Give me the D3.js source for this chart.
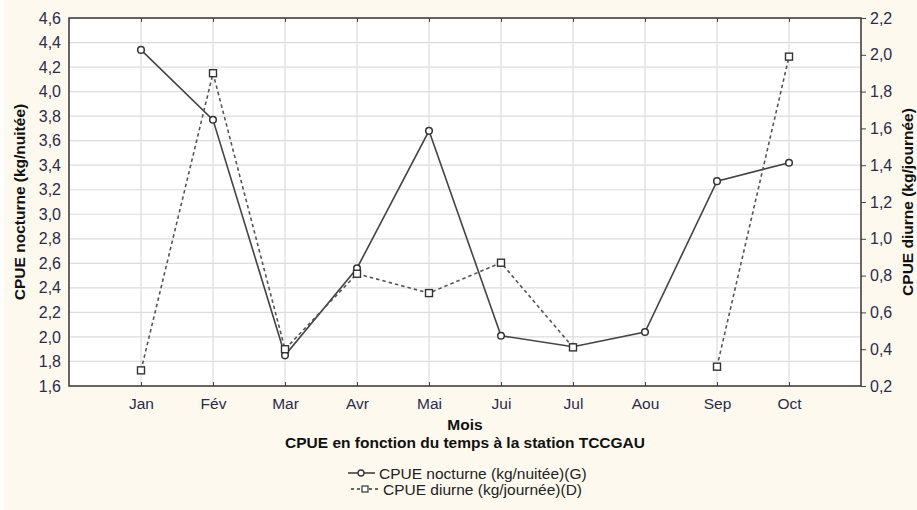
<!DOCTYPE html>
<html><head><meta charset="utf-8">
<script src="https://cdn.jsdelivr.net/npm/d3@7"></script>
<style>body{margin:0;background:#fff}svg{display:block}</style>
</head><body><svg id="c" width="917" height="510"></svg>
<script>
const months = ["Jan","Fév","Mar","Avr","Mai","Jui","Jul","Aou","Sep","Oct"];
const nocturne = [4.34,3.77,1.85,2.56,3.68,2.01,1.92,2.04,3.27,3.42];
const diurne = [0.285,1.90,0.40,0.81,0.705,0.87,0.41,null,0.305,1.99];
const leftTicks = [1.6,1.8,2.0,2.2,2.4,2.6,2.8,3.0,3.2,3.4,3.6,3.8,4.0,4.2,4.4,4.6];
const rightTicks = [0.2,0.4,0.6,0.8,1.0,1.2,1.4,1.6,1.8,2.0,2.2];

const svg = d3.select("#c");
const W=917,H=510, L=69,R=861,T=18,B=386;
const font="Liberation Sans, Arial, sans-serif";
const txt="#2b2b4a";
const fs=15.5;
svg.append("rect").attr("x",4).attr("y",0).attr("width",W-4).attr("height",H).attr("fill","#fef9ee");
svg.append("rect").attr("x",L).attr("y",T).attr("width",R-L).attr("height",B-T).attr("fill","#fff");

const x = d3.scalePoint().domain(["",...months,"_"]).range([L,R]);
const yL = d3.scaleLinear().domain([1.6,4.6]).range([B,T]);
const yR = d3.scaleLinear().domain([0.2,2.2]).range([B,T]);
const fmt = d=>d3.format(".1f")(d).replace(".",",");

// grid
const g = svg.append("g");
g.selectAll(".vg").data(months).join("line").attr("x1",d=>x(d)).attr("x2",d=>x(d)).attr("y1",T).attr("y2",B).attr("stroke","#dcdcdc").attr("stroke-width",1.2);
g.selectAll(".hg").data(leftTicks.slice(1,-1)).join("line").attr("x1",L).attr("x2",R).attr("y1",d=>yL(d)).attr("y2",d=>yL(d)).attr("stroke","#dcdcdc").attr("stroke-width",1.2);

// axes
const ax = svg.append("g").attr("font-family",font);
const axL = ax.append("g").attr("transform",`translate(${L},0)`).call(d3.axisLeft(yL).tickValues(leftTicks).tickFormat(fmt).tickSize(0).tickPadding(8));
const axR = ax.append("g").attr("transform",`translate(${R},0)`).call(d3.axisRight(yR).tickValues(rightTicks).tickFormat(fmt).tickSize(5).tickPadding(4));
const axB = ax.append("g").attr("transform",`translate(0,${B})`).call(d3.axisBottom(x).tickValues(months).tickSize(-4).tickPadding(12));
const axT = ax.append("g").attr("transform",`translate(0,${T})`).call(d3.axisTop(x).tickValues(months).tickSize(-4).tickFormat(""));
[axL,axR,axB,axT].forEach(a=>{a.select(".domain").remove();a.selectAll("text").attr("font-size",fs).attr("fill",txt).attr("font-family",font);a.selectAll("line").attr("stroke","#444");});
axL.selectAll("text").attr("font-size",16);
axR.selectAll("text").attr("font-size",16);

svg.append("rect").attr("x",L).attr("y",T).attr("width",R-L).attr("height",B-T).attr("fill","none").attr("stroke","#333").attr("stroke-width",1.5);

// lines
const lineN = d3.line().x((d,i)=>x(months[i])).y(d=>yL(d));
const lineD = d3.line().defined(d=>d!=null).x((d,i)=>x(months[i])).y(d=>yR(d));
svg.append("path").attr("d",lineN(nocturne)).attr("fill","none").attr("stroke","#444").attr("stroke-width",1.6);
svg.append("path").attr("d",lineD(diurne)).attr("fill","none").attr("stroke","#555").attr("stroke-width",1.6).attr("stroke-dasharray","3.5,3");
svg.selectAll(".pn").data(nocturne).join("circle").attr("cx",(d,i)=>x(months[i])).attr("cy",d=>yL(d)).attr("r",3.3).attr("fill","#fff").attr("stroke","#333").attr("stroke-width",1.5);
svg.selectAll(".pd").data(diurne.map((d,i)=>({d,i})).filter(o=>o.d!=null)).join("rect").attr("x",o=>x(months[o.i])-3.5).attr("y",o=>yR(o.d)-3.5).attr("width",7).attr("height",7).attr("fill","#fff").attr("stroke","#333").attr("stroke-width",1.4);

// titles
const t = svg.append("g").attr("font-family",font).attr("fill","#111").attr("font-weight","bold").attr("text-anchor","middle");
t.append("text").attr("transform",`translate(25,${(T+B)/2}) rotate(-90)`).attr("font-size",fs).text("CPUE nocturne (kg/nuitée)");
t.append("text").attr("transform",`translate(913,${(T+B)/2}) rotate(-90)`).attr("font-size",fs).text("CPUE diurne (kg/journée)");
t.append("text").attr("x",465).attr("y",430).attr("font-size",fs).text("Mois");
t.append("text").attr("x",465).attr("y",448).attr("font-size",fs).text("CPUE en fonction du temps à la station TCCGAU");

// legend
const lg = svg.append("g").attr("font-family",font).attr("font-size",fs).attr("fill","#222");
const lx=348, ly1=473, ly2=489;
lg.append("line").attr("x1",lx).attr("x2",lx+27).attr("y1",ly1).attr("y2",ly1).attr("stroke","#333").attr("stroke-width",1.5);
lg.append("circle").attr("cx",lx+13).attr("cy",ly1).attr("r",3).attr("fill","#fff").attr("stroke","#333").attr("stroke-width",1.3);
lg.append("text").attr("x",lx+31).attr("y",ly1+5.5).text("CPUE nocturne (kg/nuitée)(G)");
lg.append("line").attr("x1",lx+3).attr("x2",lx+30).attr("y1",ly2).attr("y2",ly2).attr("stroke","#333").attr("stroke-width",1.5).attr("stroke-dasharray","3,3");
lg.append("rect").attr("x",lx+14).attr("y",ly2-3).attr("width",6).attr("height",6).attr("fill","#fff").attr("stroke","#333").attr("stroke-width",1.2);
lg.append("text").attr("x",lx+35).attr("y",ly2+5.5).text("CPUE diurne (kg/journée)(D)");
</script></body></html>
